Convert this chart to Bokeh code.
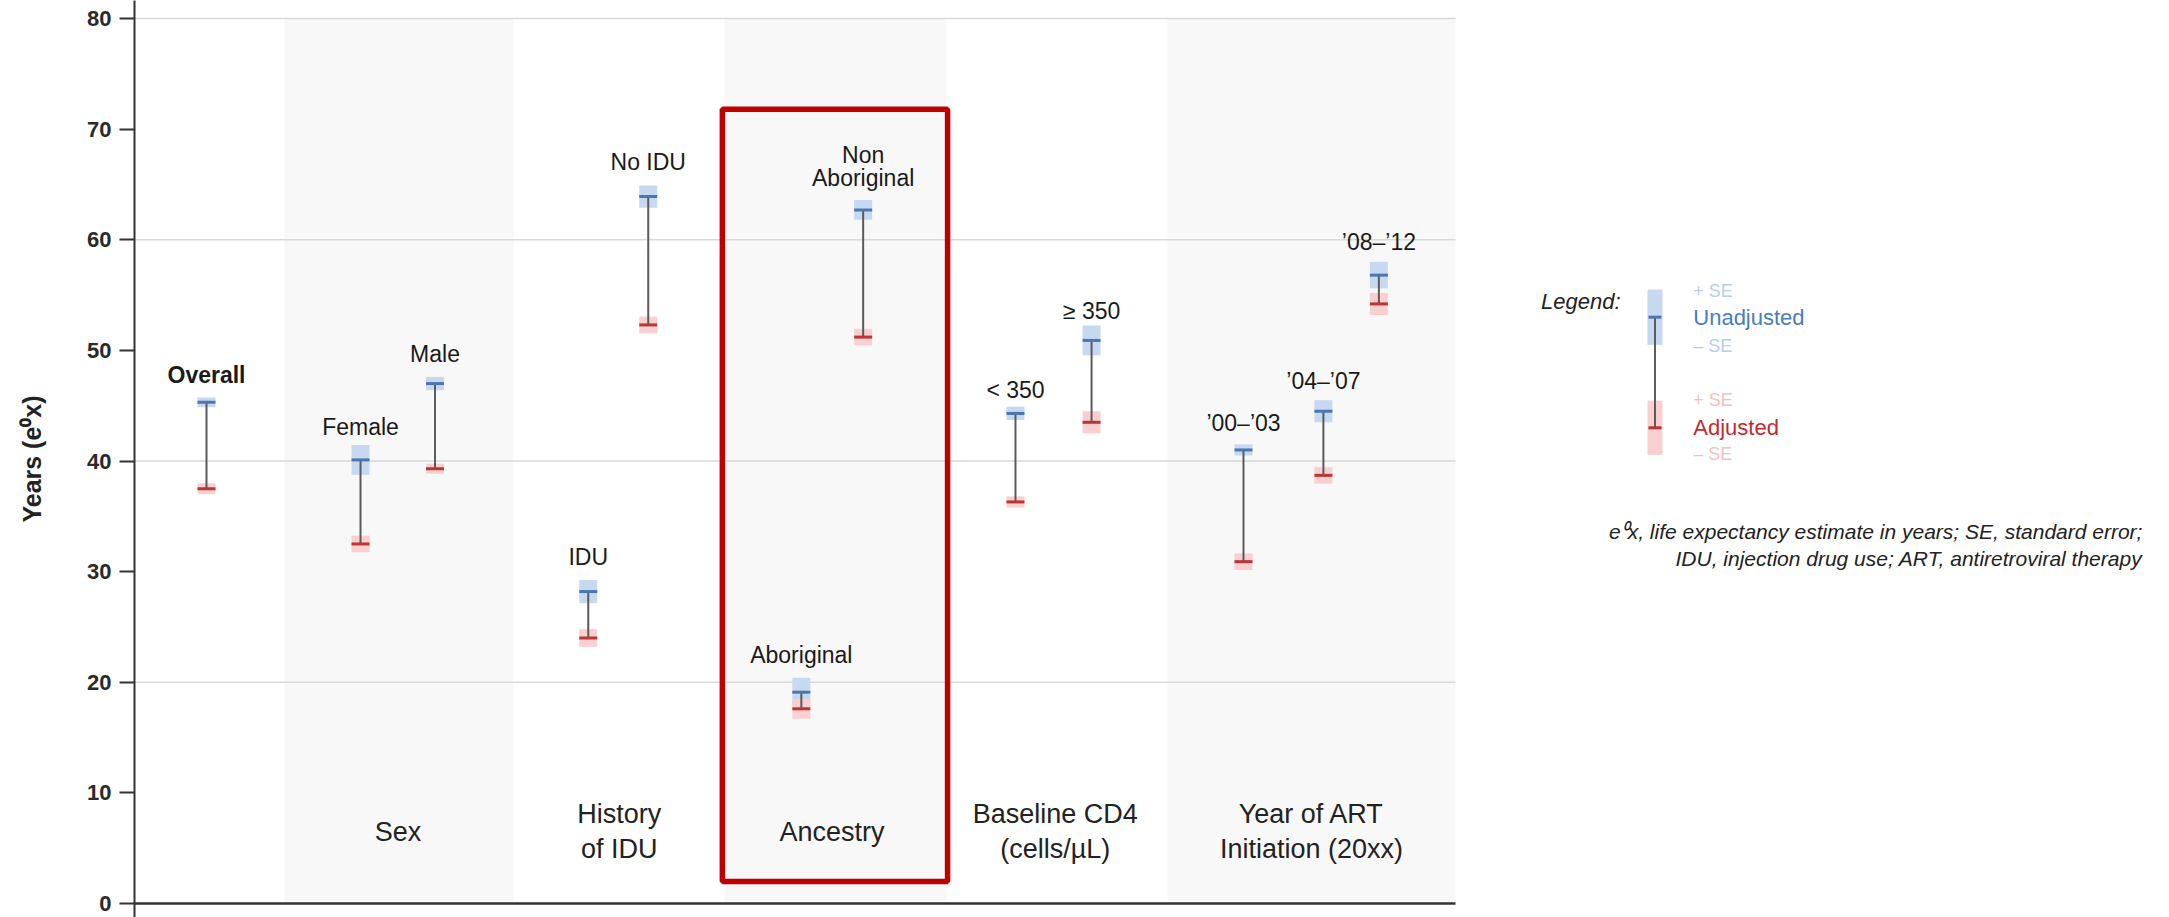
from bokeh.plotting import figure
from bokeh.models import FixedTicker, ColumnDataSource
from bokeh.embed import file_html
from bokeh.resources import INLINE
from bokeh.core.properties import value

# ---------------- data ----------------
labels = ["Overall", "Female", "Male", "IDU", "No IDU", "Aboriginal", "Non\nAboriginal",
          "< 350", "\u2265 350", "\u201900\u2013\u201903", "\u201904\u2013\u201907", "\u201908\u2013\u201912"]
unadjusted = [45.3, 40.1, 47.0, 28.2, 63.9, 19.1, 62.7, 44.3, 50.9, 41.0, 44.5, 56.8]
unadjusted_se = [0.45, 1.35, 0.6, 1.05, 1.0, 1.3, 0.9, 0.6, 1.35, 0.5, 1.0, 1.2]
adjusted = [37.5, 32.5, 39.3, 24.0, 52.3, 17.6, 51.2, 36.3, 43.5, 30.9, 38.7, 54.2]
adjusted_se = [0.5, 0.75, 0.45, 0.8, 0.75, 0.9, 0.75, 0.5, 1.0, 0.75, 0.75, 1.0]

categories = ["Sex", "History\nof IDU", "Ancestry", "Baseline CD4\n(cells/\u00b5L)", "Year of ART\nInitiation (20xx)"]
y_ticks = [0, 10, 20, 30, 40, 50, 60, 70, 80]
grid_values = [20, 40, 60, 80]

# ---------------- layout (positions in axis units) ----------------
x_pos = [5.45, 17.11, 22.75, 34.35, 38.89, 50.48, 55.16, 66.69, 72.45, 83.95, 90.0, 94.2]
label_y = [47.8, 43.1, 49.7, 31.3, 67.0, 22.5, 66.65, 46.4, 53.6, 43.4, 47.2, 59.8]
cat_x = [19.95, 36.7, 52.8, 69.7, 89.1]
cat_y = 6.5
band_left = [11.35, 44.66, 78.2]
band_right = [28.7, 61.47, 100.0]
plot_right = 100.0

FONT = "Liberation Sans"
W, H = 2169, 917
LEFT, RIGHT = 134, 8
px_per_unit = 13.21
x_end = (W - LEFT - RIGHT) / px_per_unit
# y: 80 at 18 px from top, 0 at 903 px from top
y_scale = (903 - 18) / 80.0
y_top = 80 + 18 / y_scale
y_bottom = -(H - 903) / y_scale

p = figure(width=W, height=H, x_range=(0, x_end), y_range=(y_bottom, y_top),
           output_backend="svg", toolbar_location=None, x_axis_location=None,
           min_border_left=LEFT, min_border_right=RIGHT, min_border_top=0, min_border_bottom=0)
p.outline_line_color = None
p.xgrid.visible = False
p.ygrid.visible = False
p.background_fill_color = "white"
p.border_fill_color = "white"

# y axis
ax = p.yaxis[0]
ax.ticker = FixedTicker(ticks=y_ticks)
ax.major_tick_out = 15
ax.major_tick_in = 0
ax.minor_tick_line_color = None
ax.axis_line_width = 2
ax.axis_line_color = "#333333"
ax.major_tick_line_color = "#333333"
ax.major_tick_line_width = 2
ax.major_label_text_font = FONT
ax.major_label_text_font_size = "22px"
ax.major_label_text_font_style = "bold"
ax.major_label_text_color = "#2a2a2a"
ax.major_label_standoff = 8
ax.axis_label = "Years (e\u2070x)"
ax.axis_label_text_font = FONT
ax.axis_label_text_font_style = "bold"
ax.axis_label_text_font_size = "25px"
ax.axis_label_text_color = "#222222"
ax.axis_label_standoff = 38

# shaded bands
p.quad(left=band_left, right=band_right, bottom=0, top=80,
       fill_color="#f8f8f8", line_color=None)

# gridlines
p.segment(x0=[0] * len(grid_values), x1=[plot_right] * len(grid_values),
          y0=grid_values, y1=grid_values, line_color="#d9d9d9", line_width=1.6)

# bottom axis line
p.segment(x0=[0], x1=[plot_right], y0=[0], y1=[0], line_color="#333333", line_width=2.5)

src = ColumnDataSource(dict(
    x=x_pos, u=unadjusted, a=adjusted,
    u_se2=[2 * s for s in unadjusted_se], a_se2=[2 * s for s in adjusted_se],
))

# SE rectangles
p.rect(x="x", y="u", width=18, width_units="screen", height="u_se2",
       source=src, fill_color="#c6d9f1", line_color=None)
p.rect(x="x", y="a", width=18, width_units="screen", height="a_se2",
       source=src, fill_color="#f9cfcf", line_color=None)

# stems
p.segment(x0="x", x1="x", y0="u", y1="a", source=src, line_color="#5a5a5a", line_width=2)

# caps
p.rect(x="x", y="u", width=18, height=3, width_units="screen", height_units="screen",
       source=src, fill_color="#4a76b2", line_color=None)
p.rect(x="x", y="a", width=18, height=3, width_units="screen", height_units="screen",
       source=src, fill_color="#b83636", line_color=None)

# point labels (split multi-line)
lx, ly, lt, lstyle = [], [], [], []
line_gap = 2.1
for x, y, t in zip(x_pos, label_y, labels):
    parts = t.split("\n")
    n = len(parts)
    for i, part in enumerate(parts):
        lx.append(x)
        ly.append(y + (n - 1) / 2 * line_gap - i * line_gap)
        lt.append(part)
        lstyle.append("bold" if t == "Overall" else "normal")
p.text(x=lx, y=ly, text=lt, text_font=value(FONT), text_font_size="23px",
       text_font_style=lstyle, text_color="#1a1a1a", text_align="center", text_baseline="middle")

# category labels
cx, cy, ct = [], [], []
cat_gap = 3.14
for x, t in zip(cat_x, categories):
    parts = t.split("\n")
    n = len(parts)
    for i, part in enumerate(parts):
        cx.append(x)
        cy.append(cat_y + (n - 1) / 2 * cat_gap - i * cat_gap)
        ct.append(part)
p.text(x=cx, y=cy, text=ct, text_font=value(FONT), text_font_size="27px",
       text_color="#222222", text_align="center", text_baseline="middle")

# highlight box around Ancestry
p.quad(left=[44.5], right=[61.55], bottom=[2.0], top=[71.8],
       fill_color=None, line_color="#c00000", line_width=5.5)

# ---------------- legend ----------------
lg_x = 115.1
lg_u, lg_u_se = 53.0, 2.5
lg_a, lg_a_se = 43.0, 2.45
p.rect(x=[lg_x], y=[lg_u], width=15, width_units="screen", height=[2 * lg_u_se],
       fill_color="#c6d9f1", line_color=None)
p.rect(x=[lg_x], y=[lg_a], width=15, width_units="screen", height=[2 * lg_a_se],
       fill_color="#f9cfcf", line_color=None)
p.segment(x0=[lg_x], x1=[lg_x], y0=[lg_u], y1=[lg_a], line_color="#5a5a5a", line_width=2)
p.rect(x=[lg_x, lg_x], y=[lg_u, lg_a], width=13, height=3, width_units="screen",
       height_units="screen", fill_color=["#4a76b2", "#b83636"], line_color=None)

p.text(x=[112.5], y=[54.4], text=["Legend:"], text_font=value(FONT), text_font_size="22px",
       text_font_style="italic", text_color="#222222", text_align="right", text_baseline="middle")

leg_tx = 118.0
leg_texts = ["+ SE", "Unadjusted", "\u2013 SE", "+ SE", "Adjusted", "\u2013 SE"]
leg_ys = [55.4, 53.0, 50.4, 45.5, 43.0, 40.6]
leg_cols = ["#b7cdec", "#4a7cc0", "#b7cdec", "#f5bfbf", "#c8282d", "#f5bfbf"]
leg_sizes = ["18px", "22px", "18px", "18px", "22px", "18px"]
p.text(x=[leg_tx] * 6, y=leg_ys, text=leg_texts, text_font=value(FONT),
       text_font_size=leg_sizes, text_color=leg_cols, text_align="left", text_baseline="middle")

# footnote
foot = ["e\u2070x, life expectancy estimate in years; SE, standard error;",
        "IDU, injection drug use; ART, antiretroviral therapy"]
p.text(x=[152.0, 152.0], y=[33.6, 31.2], text=foot, text_font=value(FONT), text_font_size="21px",
       text_font_style="italic", text_color="#222222", text_align="right", text_baseline="middle")

open("out.html", "w").write(file_html(p, INLINE))
